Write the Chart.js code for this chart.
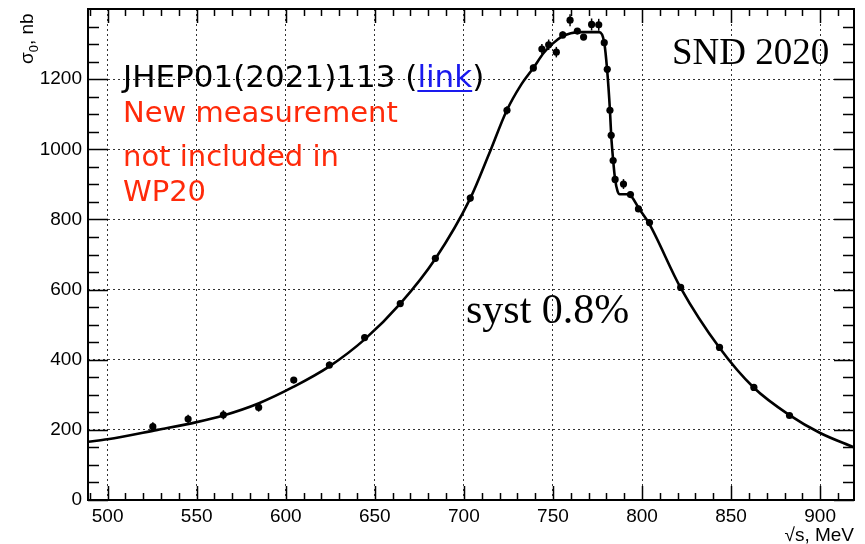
<!DOCTYPE html>
<html><head><meta charset="utf-8">
<script src="https://cdn.jsdelivr.net/npm/chart.js@4.4.0/dist/chart.umd.min.js"></script>
<style>html,body{margin:0;padding:0;background:#fff}#wrap{width:865px;height:544px;position:relative}</style>
</head><body><div id="wrap"><canvas id="c"></canvas></div>
<script>
// measured points (sqrt(s) in MeV, sigma_0 in nb, error in nb)
const pointEnergy = [525.4,545.2,565.0,584.8,604.5,624.5,644.3,664.3,684.0,703.6,724.2,739.0,743.8,747.6,751.9,755.5,759.6,763.7,767.2,771.7,775.7,778.8,780.5,782.0,782.7,783.8,784.9,789.6,793.5,798.0,804.2,821.7,843.5,862.8,882.8];
const pointSigma  = [209,231,243,264,342,385,463,560,689,861,1111,1232,1286,1298,1277,1326,1368,1337,1320,1356,1355,1304,1228,1111,1040,968,914,901,871,830,791,606,435,321,241];
const pointError  = [13,12,13,12,9,10,9,8,9,10,12,10,14,15,15,10,17,8,8,17,17,9,9,9,9,9,9,14,9,9,9,7,6,5,5];
// fitted curve
const curveEnergy = [489,500,528,550,565,585,604.5,624.5,644.3,664.3,684,703.6,714,724,732,739,745,750,755,760,766,776,778.8,780.4,782,782.7,783.8,784.9,786.3,787.5,792,794,798.2,804,821.7,843.5,862.8,882.8,900,919];
const curveSigma  = [166,173,200,222,241,276,323,381,458,560,688,860,985,1110,1183,1232,1276,1302,1321,1331,1334,1334,1304,1228,1111,1040,969,914,880,872,872,866,832,788,605,434,320,242,191,150];
// axes
const xTickLabels = [500,550,600,650,700,750,800,850,900];
const yTickLabels = [0,200,400,600,800,1000,1200];
const xRange = [489,919];
const yRange = [0,1400];
const xMinorStep = 10;
const yMinorStep = 50;

const toXY = (xs, ys) => xs.map((x,i)=>({x:x, y:ys[i]}));
const stepTicks = (lo, hi, step) => { const t=[]; for (let v=Math.ceil(lo/step)*step; v<=hi; v+=step) t.push({value:v}); return t; };

const frameTicks = {
  id:'frameTicks',
  afterDraw(chart){
    const {ctx, chartArea:a, scales:{x, y}} = chart;
    ctx.save();
    ctx.strokeStyle='#000';
    ctx.lineWidth=1.5;
    x.ticks.forEach(t=>{
      const px = Math.round(x.getPixelForValue(t.value))+0.5;
      const L = xTickLabels.includes(t.value) ? 14 : 7;
      ctx.beginPath();
      ctx.moveTo(px,a.bottom); ctx.lineTo(px,a.bottom-L);
      ctx.moveTo(px,a.top); ctx.lineTo(px,a.top+L);
      ctx.stroke();
    });
    y.ticks.forEach(t=>{
      const py = Math.round(y.getPixelForValue(t.value))+0.5;
      const L = (t.value % 200 === 0) ? 20 : 11;
      ctx.beginPath();
      ctx.moveTo(a.left,py); ctx.lineTo(a.left+L,py);
      ctx.moveTo(a.right,py); ctx.lineTo(a.right-L,py);
      ctx.stroke();
    });
    ctx.lineWidth=2;
    ctx.strokeRect(a.left, a.top, a.right-a.left, a.bottom-a.top);

    // axis titles
    ctx.fillStyle='#000';
    ctx.font='19px "Liberation Sans", Arial, sans-serif';
    ctx.textAlign='right';
    ctx.textBaseline='alphabetic';
    ctx.fillText('\u221As, MeV', a.right, 541);

    ctx.translate(33, 64);
    ctx.rotate(-Math.PI/2);
    ctx.textAlign='left';
    ctx.font='19px "Liberation Sans", Arial, sans-serif';
    ctx.fillText('\u03C3', 0, 0);
    let w = ctx.measureText('\u03C3').width;
    ctx.font='13px "Liberation Sans", Arial, sans-serif';
    ctx.fillText('0', w, 5);
    w += ctx.measureText('0').width;
    ctx.font='19px "Liberation Sans", Arial, sans-serif';
    ctx.fillText(', nb', w, 0);
    ctx.restore();
  }
};

const errorBars = {
  id:'errorBars',
  afterDatasetsDraw(chart){
    const {ctx, scales:{x, y}} = chart;
    ctx.save();
    ctx.strokeStyle='#000';
    ctx.lineWidth=1.5;
    pointEnergy.forEach((e,i)=>{
      const px = x.getPixelForValue(e);
      ctx.beginPath();
      ctx.moveTo(px, y.getPixelForValue(pointSigma[i]-pointError[i]));
      ctx.lineTo(px, y.getPixelForValue(pointSigma[i]+pointError[i]));
      ctx.stroke();
    });
    ctx.restore();
  }
};

const notes = {
  id:'notes',
  afterDraw(chart){
    const {ctx} = chart;
    ctx.save();
    ctx.textAlign='left';
    ctx.textBaseline='alphabetic';
    // JHEP line
    ctx.font='31px "DejaVu Sans", sans-serif';
    let x0 = 123, yb = 87;
    const p1 = 'JHEP01(2021)113 (';
    ctx.fillStyle='#000';
    ctx.fillText(p1, x0, yb);
    let w1 = ctx.measureText(p1).width;
    ctx.fillStyle='#1a1aee';
    ctx.fillText('link', x0+w1, yb);
    const wl = ctx.measureText('link').width;
    ctx.fillRect(x0+w1, yb+3, wl, 2);
    ctx.fillStyle='#000';
    ctx.fillText(')', x0+w1+wl, yb);
    // red note
    ctx.fillStyle='#ff2a0a';
    ctx.font='29px "DejaVu Sans", sans-serif';
    ctx.fillText('New measurement', 123, 122);
    ctx.fillText('not included in', 123, 166);
    ctx.fillText('WP20', 123, 201);
    // serif labels
    ctx.fillStyle='#000';
    ctx.font='37px "Liberation Serif", "Times New Roman", serif';
    ctx.fillText('SND 2020', 672, 64);
    ctx.font='42px "Liberation Serif", "Times New Roman", serif';
    ctx.fillText('syst 0.8%', 466, 323);
    ctx.restore();
  }
};

new Chart(document.getElementById('c'), {
  type:'scatter',
  data:{
    datasets:[
      {
        label:'fit',
        data: toXY(curveEnergy, curveSigma),
        showLine:true,
        borderColor:'#000',
        borderWidth:2.6,
        pointRadius:0,
        cubicInterpolationMode:'monotone',
        fill:false,
        order:2
      },
      {
        label:'SND 2020',
        data: toXY(pointEnergy, pointSigma),
        showLine:false,
        pointRadius:3.6,
        pointBackgroundColor:'#000',
        pointBorderColor:'#000',
        pointBorderWidth:0,
        order:1
      }
    ]
  },
  options:{
    responsive:true,
    maintainAspectRatio:false,
    animation:false,
    layout:{padding:{top:9,right:11,left:0,bottom:0}},
    plugins:{legend:{display:false},tooltip:{enabled:false}},
    scales:{
      x:{
        type:'linear', min:xRange[0], max:xRange[1],
        afterBuildTicks(s){ s.ticks = stepTicks(xRange[0], xRange[1], xMinorStep); },
        afterFit(s){ s.height = 44; s.paddingLeft = 0; s.paddingRight = 0; },
        border:{display:false, dash:[2,3]},
        grid:{
          drawTicks:false,
          lineWidth:1,
          color:(c)=> (c.tick && xTickLabels.includes(c.tick.value)) ? '#333' : 'rgba(0,0,0,0)'
        },
        ticks:{
          autoSkip:false, maxRotation:0, minRotation:0,
          padding:5, color:'#000',
          font:{family:'"Liberation Sans", Arial, sans-serif', size:19},
          callback:(v)=> xTickLabels.includes(v) ? String(v) : ''
        }
      },
      y:{
        type:'linear', min:yRange[0], max:yRange[1],
        afterBuildTicks(s){ s.ticks = stepTicks(yRange[0], yRange[1]-yMinorStep, yMinorStep); },
        afterFit(s){ s.width = 88; s.paddingTop = 0; s.paddingBottom = 0; },
        border:{display:false, dash:[2,3]},
        grid:{
          drawTicks:false,
          lineWidth:1,
          color:(c)=> (c.tick && c.tick.value>0 && yTickLabels.includes(c.tick.value)) ? '#333' : 'rgba(0,0,0,0)'
        },
        ticks:{
          autoSkip:false, padding:6, color:'#000',
          font:{family:'"Liberation Sans", Arial, sans-serif', size:19},
          callback:(v)=> yTickLabels.includes(v) ? String(v) : ''
        }
      }
    }
  },
  plugins:[errorBars, frameTicks, notes]
});
</script>
</body></html>
